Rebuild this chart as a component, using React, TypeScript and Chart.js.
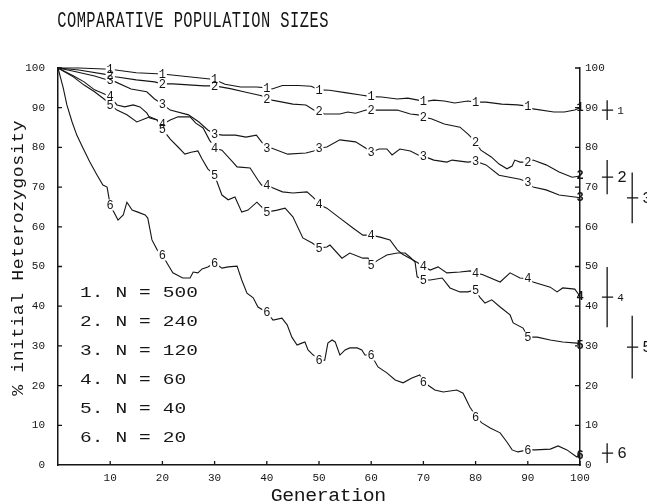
import { useEffect, useRef } from 'react';
import { Chart, registerables } from 'chart.js';

Chart.register(...registerables);

// Mean heterozygosity (% of initial) per generation, one pair of arrays per population size.
const GEN_1 = [0, 4, 10, 15, 20, 25, 30, 32, 35, 38, 40, 41, 43, 46, 48.5, 50, 52, 55, 58, 60, 62, 65, 67, 69, 70, 72, 74, 76, 78.5, 80, 82, 85, 88, 90, 91, 95, 97, 99, 100];
const HET_1 = [100, 100, 99.7, 98.8, 98.5, 97.8, 97.1, 95.9, 95.2, 95.2, 95, 94.7, 95.6, 95.6, 95.4, 94.5, 94.4, 93.8, 93.2, 92.8, 92.7, 92.2, 92.4, 91.9, 91.5, 91.9, 91.7, 91.2, 91.7, 91.4, 91.4, 90.9, 90.7, 90.4, 89.7, 88.9, 88.9, 89.4, 90];

const GEN_2 = [0, 4, 10, 11, 15, 18.5, 20, 22, 28, 30, 33, 36, 39, 40, 41, 45, 47.5, 49, 50, 51, 54, 55.5, 57, 59, 60, 62, 65, 67.5, 69, 70, 71.5, 74, 77, 78.5, 80, 81, 83, 84.5, 86, 87, 87.5, 88.5, 90, 91, 93.5, 96, 98.5, 100];
const HET_2 = [100, 99.5, 98.2, 97.8, 97, 96.5, 96, 96, 95.5, 95.5, 94.8, 93.9, 93, 92.2, 91.9, 90.9, 90.7, 89.4, 89.2, 88.4, 88.4, 88.9, 88.6, 89.4, 89.4, 89.4, 89.4, 88.4, 88.2, 87.6, 87.2, 85.9, 85.1, 83.4, 81.4, 79.3, 77.6, 75.8, 74.6, 75.3, 76.8, 76.3, 76.3, 76.8, 75.6, 73.8, 72.5, 72.8];

const GEN_3 = [0, 3, 7, 10, 11, 14, 17, 18.5, 20, 21.5, 25, 27, 28.7, 30, 31.5, 34, 36, 38, 39, 40, 41, 44, 47.5, 49, 50, 51.5, 54, 57, 59, 60, 61.5, 63, 64, 65.5, 67.5, 69, 70, 72, 74.5, 75.5, 78.5, 80, 82, 84.5, 88.5, 90, 91, 93.5, 96, 99, 100];
const HET_3 = [100, 99.2, 98, 96.8, 96.5, 94.7, 94, 92.2, 90.9, 89.4, 88.2, 86.4, 84.4, 83.4, 83.1, 83.1, 82.6, 83.1, 81.4, 79.8, 79.8, 78.3, 78.6, 79.1, 79.8, 80.1, 81.9, 81.4, 79.8, 78.8, 79.6, 79.6, 78.1, 79.6, 79.1, 78.1, 77.8, 76.8, 76.3, 76.8, 76.3, 76.5, 75.6, 73, 72, 71.3, 70, 69.3, 68, 67.5, 67.3];

const GEN_4 = [0, 3, 5, 7, 9, 10, 11.3, 12.8, 14.4, 15.7, 17, 17.6, 19, 20, 21.5, 23, 25.3, 26.4, 27.8, 29, 30, 31.4, 33.5, 34.3, 36.8, 38.3, 39, 40, 41.2, 43, 45, 47.7, 49, 50, 51.5, 54, 56.5, 58.4, 60, 61.7, 63.6, 65, 66, 67.4, 69, 70, 71.3, 72.8, 74.5, 77, 79, 80, 81.4, 84.7, 86.6, 88.5, 90, 91, 94.3, 95.6, 96.7, 99, 100];
const HET_4 = [100, 98, 96.5, 94.5, 93.4, 92.8, 90.7, 90.2, 90.7, 90.2, 88.7, 87.4, 86.9, 85.8, 86.9, 87.7, 87.7, 86.1, 84.9, 81.9, 79.8, 79.3, 76.3, 75.1, 74.8, 71.8, 70.5, 70.5, 69.8, 68.8, 68.5, 68.8, 67.3, 65.6, 64.7, 62.2, 59.7, 57.9, 57.9, 57.4, 56.7, 54.2, 53.1, 52.1, 50.9, 50, 49.1, 49.9, 48.4, 48.6, 48.9, 48.4, 47.9, 46.1, 48.4, 47.1, 46.9, 46.1, 44.8, 43.6, 44.6, 44.3, 42.5];

const GEN_5 = [0, 3, 5, 7, 9, 10, 11.3, 13.2, 15.1, 17, 17.6, 19, 20, 21.5, 23, 24.3, 25.5, 26.8, 27.6, 28.7, 30, 31.4, 32.6, 33.9, 35.2, 36.4, 38.1, 39, 40, 42, 43.5, 45, 46.9, 48.7, 50, 51.5, 52.1, 54.4, 55.9, 58.4, 59.4, 60, 61.3, 63, 65, 66.5, 67.4, 68.4, 68.8, 70, 71.3, 73.6, 75.1, 77, 78.5, 80, 80.8, 81.8, 83.1, 84.7, 86.6, 87.2, 89.1, 90, 91.8, 94.3, 96.7, 99.4, 100];
const HET_5 = [100, 97.7, 95.7, 94, 92, 90.7, 89.4, 88.2, 86.4, 87.4, 87.7, 86.9, 84.6, 82.1, 80.1, 78.3, 78.8, 79.1, 77.1, 74.6, 73, 68, 66.8, 67.5, 63.7, 64.2, 66.2, 65, 63.7, 64.2, 64.7, 62.5, 57.2, 55.9, 54.7, 54.9, 55.4, 52.1, 53.4, 52.1, 52.1, 50.4, 51.6, 52.9, 53.4, 53.4, 52.4, 51.1, 47.4, 46.6, 46.6, 47.1, 44.6, 43.6, 43.6, 44.1, 42.3, 40.8, 41.6, 39.8, 37.8, 35.8, 34.5, 32.2, 32.2, 31.5, 31, 30.7, 30.2];

const GEN_6 = [0, 1, 1.7, 2.7, 3.6, 4.8, 6.1, 7.5, 8.6, 9.4, 10, 11.5, 12.5, 13.2, 14.2, 15.3, 16.7, 17.2, 18, 19, 20, 21.1, 22, 23.9, 25.3, 25.9, 26.8, 27.6, 28.7, 30, 31.4, 32.6, 34.3, 35.2, 36.2, 37.4, 38.3, 40, 41.2, 42.9, 43.9, 44.8, 45.8, 46.7, 47.3, 47.9, 48.9, 49.6, 50, 51.1, 51.7, 52.5, 53.1, 54, 55, 55.9, 57.3, 58.2, 58.8, 60, 61.3, 63, 64.6, 66.1, 67.8, 69.3, 70, 72.2, 73.8, 76.4, 77.6, 78.9, 79.5, 80, 81.2, 82.8, 84.7, 86, 87, 88.1, 90, 91.4, 94.3, 95.8, 97.5, 99.4, 100];
const HET_6 = [100, 95, 90.7, 86.4, 83.1, 79.8, 76.3, 73, 70.5, 70, 65.5, 61.7, 63, 66.2, 64.2, 63.7, 63, 62.2, 56.7, 54.2, 52.9, 50.4, 48.4, 47.1, 47.1, 48.6, 48.4, 49.4, 49.9, 50.9, 49.6, 49.9, 50.1, 46.6, 43.3, 42.1, 39.8, 38.5, 36.5, 37, 35.3, 32.2, 30.2, 30.7, 31, 29, 27.7, 27.2, 26.4, 26.4, 30.7, 31.5, 31, 27.7, 29, 29.5, 29.5, 29, 27.7, 27.7, 24.7, 23.2, 21.4, 20.7, 21.9, 22.7, 20.9, 18.9, 18.4, 18.9, 18.1, 14.6, 13.4, 12.1, 10.6, 9.3, 8.1, 5.8, 3.8, 3.3, 3.8, 3.8, 4, 4.8, 3.8, 2, 2.5];

// Effective population size of each run.
const POP_SIZES = [500, 240, 120, 60, 40, 20];

// Generations at which each curve carries its number.
const LABEL_GENS = [10, 20, 30, 40, 50, 60, 70, 80, 90, 100];

// Spread between replicate runs at generation 100: mean and half-range.
const ERR_MEAN = [89.4, 72.5, 67.3, 42.3, 29.7, 3.0];
const ERR_HALF = [2.5, 4.3, 6.4, 7.6, 7.9, 2.5];

const AXIS_MIN = 0;
const AXIS_MAX = 100;
const AXIS_STEP = 10;

const TITLE = 'COMPARATIVE POPULATION SIZES';
const X_TITLE = 'Generation';
const Y_TITLE = '% initial Heterozygosity';

const SERIES = [
  { gen: GEN_1, het: HET_1 },
  { gen: GEN_2, het: HET_2 },
  { gen: GEN_3, het: HET_3 },
  { gen: GEN_4, het: HET_4 },
  { gen: GEN_5, het: HET_5 },
  { gen: GEN_6, het: HET_6 },
];

// Range bars alternate between two columns right of the plot.
const ERR_STAGGER = [0, 0, 1, 0, 1, 0];
const ERR_LABEL_PX = [11, 16, 16, 11, 16, 16];
const errGen = (i: number) => 105.2 + ERR_STAGGER[i] * 4.8;

const INK = '#151515';
const FONT = '"Liberation Mono", "DejaVu Sans Mono", monospace';

function valueAt(gens: number[], vals: number[], g: number): number {
  for (let i = 0; i < gens.length - 1; i++) {
    if (g >= gens[i] && g <= gens[i + 1]) {
      const t = (g - gens[i]) / (gens[i + 1] - gens[i] || 1);
      return vals[i] + t * (vals[i + 1] - vals[i]);
    }
  }
  return vals[vals.length - 1];
}

// Plotter-style lettering: fixed pitch, each glyph stretched to fit its cell.
function drawSpaced(
  ctx: CanvasRenderingContext2D,
  text: string,
  x0: number,
  capCenter: number,
  pitch: number,
  px: number,
  sx: number,
) {
  ctx.font = `${px}px ${FONT}`;
  ctx.textAlign = 'center';
  ctx.textBaseline = 'alphabetic';
  const base = capCenter + 0.33 * px;
  for (let i = 0; i < text.length; i++) {
    const ch = text[i];
    if (ch === ' ') continue;
    ctx.save();
    ctx.translate(x0 + pitch * (i + 0.5), base);
    ctx.scale(sx, 1);
    ctx.fillText(ch, 0, 0);
    ctx.restore();
  }
}

const curveDigits = {
  id: 'curveDigits',
  afterDatasetsDraw(chart: any) {
    const { ctx, scales } = chart;
    const xs = scales.x;
    const ys = scales.y;
    const spots: { px: number; py: number; t: string; end: boolean }[] = [];
    SERIES.forEach((s, si) => {
      LABEL_GENS.forEach((g) => {
        const v = valueAt(s.gen, s.het, g);
        spots.push({
          px: xs.getPixelForValue(g),
          py: ys.getPixelForValue(v),
          t: String(si + 1),
          end: g === AXIS_MAX,
        });
      });
    });
    ctx.save();
    ctx.fillStyle = '#ffffff';
    spots.forEach((p) => {
      if (!p.end) ctx.fillRect(p.px - 4.5, p.py - 5.5, 9, 11);
    });
    ctx.fillStyle = INK;
    ctx.textAlign = 'center';
    ctx.textBaseline = 'middle';
    spots.forEach((p) => {
      ctx.font = p.end ? `bold 12px ${FONT}` : `12px ${FONT}`;
      ctx.fillText(p.t, p.px, p.py + 0.5);
    });
    ctx.restore();
  },
};

const decorations = {
  id: 'decorations',
  afterDraw(chart: any) {
    const { ctx, chartArea, scales } = chart;
    const xs = scales.x;
    const ys = scales.y;
    ctx.save();
    ctx.strokeStyle = INK;
    ctx.lineWidth = 1.3;
    ctx.beginPath();
    for (let v = AXIS_MIN + AXIS_STEP; v <= AXIS_MAX; v += AXIS_STEP) {
      const py = ys.getPixelForValue(v);
      ctx.moveTo(chartArea.left, py);
      ctx.lineTo(chartArea.left + 4, py);
      ctx.moveTo(chartArea.right, py);
      ctx.lineTo(chartArea.right - 5, py);
      const px = xs.getPixelForValue(v);
      ctx.moveTo(px, chartArea.bottom);
      ctx.lineTo(px, chartArea.bottom - 4);
    }
    ctx.stroke();

    ctx.fillStyle = INK;
    drawSpaced(ctx, TITLE, 57, 20, 9.7, 22, 0.7);

    POP_SIZES.forEach((n, i) => {
      drawSpaced(ctx, `${i + 1}. N = ${n}`, 80, 292 + i * 29.1, 11.8, 15, 1.3);
    });

    drawSpaced(ctx, X_TITLE, 271, 495, 11.5, 18, 1.1);

    ctx.save();
    ctx.translate(18, 396);
    ctx.rotate(-Math.PI / 2);
    drawSpaced(ctx, Y_TITLE, 0, 0, 11.5, 16.5, 1.1);
    ctx.restore();

    ctx.textAlign = 'left';
    ctx.textBaseline = 'middle';
    ERR_MEAN.forEach((m, i) => {
      const px = xs.getPixelForValue(errGen(i));
      const py = ys.getPixelForValue(m);
      ctx.font = `${ERR_LABEL_PX[i]}px ${FONT}`;
      ctx.fillText(String(i + 1), px + 10, py + 1);
    });
    ctx.restore();
  },
};

function buildErrorBars() {
  const pts: { x: number; y: number | null }[] = [];
  ERR_MEAN.forEach((m, i) => {
    const g = errGen(i);
    pts.push({ x: g - 1.0, y: m }, { x: g + 1.15, y: m }, { x: g, y: null });
    pts.push({ x: g, y: m - ERR_HALF[i] }, { x: g, y: m + ERR_HALF[i] }, { x: g, y: null });
  });
  return pts;
}

export default function App() {
  const canvasRef = useRef<HTMLCanvasElement | null>(null);

  useEffect(() => {
    const canvas = canvasRef.current;
    if (!canvas) return;

    const lineSets = SERIES.map((s, si) => ({
      label: `N = ${POP_SIZES[si]}`,
      data: s.gen.map((g, i) => ({ x: g, y: s.het[i] })),
      borderColor: INK,
      borderWidth: 1.1,
      pointRadius: 0,
      tension: 0,
      fill: false,
      clip: false as const,
    }));

    const tickFont = { family: FONT, size: 11 };
    const noGrid = { display: false, drawTicks: false };

    const chart = new Chart(canvas, {
      type: 'line',
      data: {
        datasets: [
          ...lineSets,
          {
            label: 'range',
            data: buildErrorBars(),
            borderColor: INK,
            borderWidth: 1.3,
            pointRadius: 0,
            spanGaps: false,
            clip: false as const,
          },
        ],
      },
      options: {
        responsive: false,
        animation: false,
        events: [],
        layout: { autoPadding: false, padding: { top: 68, left: 0, right: 0, bottom: 0 } },
        plugins: {
          legend: { display: false },
          tooltip: { enabled: false },
          title: { display: false },
        },
        scales: {
          x: {
            type: 'linear',
            position: 'bottom',
            min: AXIS_MIN,
            max: AXIS_MAX,
            grid: noGrid,
            border: { display: true, color: INK, width: 1.5 },
            ticks: {
              stepSize: AXIS_STEP,
              padding: 6,
              color: INK,
              font: tickFont,
              maxRotation: 0,
              autoSkip: false,
              callback: (v: any) => (v === AXIS_MIN ? '' : String(v)),
            },
            afterFit: (s: any) => {
              s.height = 39;
            },
          },
          y: {
            type: 'linear',
            position: 'left',
            min: AXIS_MIN,
            max: AXIS_MAX,
            grid: noGrid,
            border: { display: true, color: INK, width: 1.5 },
            ticks: { stepSize: AXIS_STEP, padding: 13, color: INK, font: tickFont },
            afterFit: (s: any) => {
              s.width = 58;
            },
          },
          y2: {
            type: 'linear',
            position: 'right',
            min: AXIS_MIN,
            max: AXIS_MAX,
            grid: noGrid,
            border: { display: true, color: INK, width: 1.5 },
            ticks: { stepSize: AXIS_STEP, padding: 5, color: INK, font: tickFont },
            afterFit: (s: any) => {
              s.width = 67;
            },
          },
        },
      },
      plugins: [curveDigits, decorations],
    });

    return () => chart.destroy();
  }, []);

  return (
    <div style={{ position: 'fixed', left: 0, top: 0, width: 647, height: 504, background: '#fff' }}>
      <canvas ref={canvasRef} width={647} height={504} />
    </div>
  );
}
